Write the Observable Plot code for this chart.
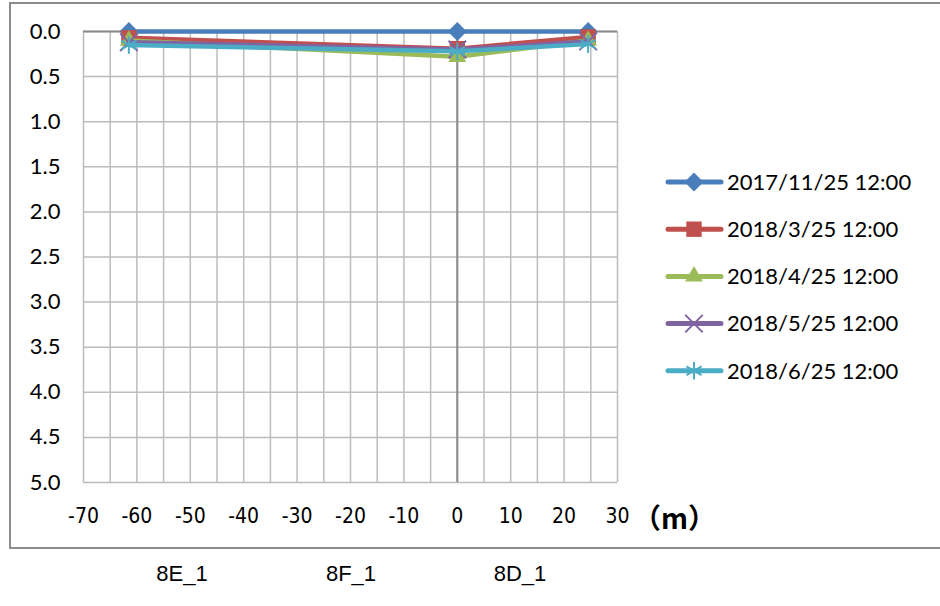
<!DOCTYPE html>
<html>
<head>
<meta charset="utf-8">
<script src="https://cdn.jsdelivr.net/npm/d3@7"></script>
<script src="https://cdn.jsdelivr.net/npm/@observablehq/plot@0.6"></script>
<style>
  html, body { margin: 0; padding: 0; background: #fff; }
  #chart { position: relative; width: 940px; height: 606px; overflow: hidden; }
</style>
</head>
<body>
<div id="chart"></div>
<script>
// ---- data ----
const positions = [-61.5, 0, 24.5];           // distance (m)
const seriesNames = ["2017/11/25 12:00", "2018/3/25 12:00", "2018/4/25 12:00", "2018/5/25 12:00", "2018/6/25 12:00"];
const s20171125 = [0.00, 0.00, 0.00];
const s20180325 = [0.07, 0.19, 0.06];
const s20180425 = [0.10, 0.28, 0.10];
const s20180525 = [0.12, 0.20, 0.11];
const s20180625 = [0.15, 0.22, 0.14];
const seriesValues = [s20171125, s20180325, s20180425, s20180525, s20180625];
const xTicks = [-70, -60, -50, -40, -30, -20, -10, 0, 10, 20, 30];
const yTicks = [0, 0.5, 1, 1.5, 2, 2.5, 3, 3.5, 4, 4.5, 5];
const siteLabels = ["8E_1", "8F_1", "8D_1"];

// ---- styles ----
const colors = ["#4A7EBB", "#C0504D", "#9BBB59", "#8064A2", "#4BACC6"];
const symbols = ["diamond2", "square2", "triangle2", "times", "asterisk"];
const symR = [8.5, 9.8, 8.5, 8, 8.3];
const filled = [true, true, true, false, false];

const rows = [];
seriesNames.forEach((name, i) => {
  positions.forEach((x, j) => rows.push({series: name, idx: i, x, y: seriesValues[i][j]}));
});

const marks = [
  Plot.gridX({ticks: d3.range(-70, 31, 5), stroke: "#bcbcbc", strokeOpacity: 1, strokeWidth: 1.5}),
  Plot.gridY({ticks: yTicks, stroke: "#bcbcbc", strokeOpacity: 1, strokeWidth: 1.5}),
  Plot.ruleX([0], {stroke: "#8a8a8a", strokeWidth: 2}),
  Plot.ruleY([0], {stroke: "#8a8a8a", strokeWidth: 2}),
  Plot.axisY({ticks: yTicks, tickFormat: d3.format(".1f"), tickSize: 0, tickPadding: 23, label: null,
    fontFamily: "Lato", fontSize: 22, fill: "#000"}),
  Plot.axisX({ticks: xTicks, tickSize: 0, tickPadding: 26, label: null, tickFormat: d => String(d).replace("−", "-"),
    fontFamily: "DejaVu Sans Condensed, DejaVu Sans", fontSize: 21, fill: "#000"})
];
seriesNames.forEach((name, i) => {
  const data = rows.filter(r => r.idx === i);
  marks.push(Plot.line(data, {x: "x", y: "y", stroke: colors[i], strokeWidth: 4.5}));
  marks.push(Plot.dot(data, filled[i]
    ? {x: "x", y: "y", symbol: () => symbols[i], r: symR[i], fill: colors[i], stroke: "none"}
    : {x: "x", y: "y", symbol: () => symbols[i], r: symR[i], stroke: colors[i], strokeWidth: 2, fill: "none"}));
});

const plot = Plot.plot({
  width: 940,
  height: 606,
  marginLeft: 83,
  marginRight: 323,
  marginTop: 31,
  marginBottom: 124,
  x: {domain: [-70, 30], axis: null, label: null},
  y: {domain: [0, 5], reverse: true, axis: null, label: null},
  symbol: {type: "identity"},
  style: {fontFamily: "Lato", background: "#fff", overflow: "visible"},
  marks
});
document.getElementById("chart").appendChild(plot);

const svg = d3.select(plot);
// chart frame
svg.insert("rect", ":first-child")
  .attr("x", 10).attr("y", 3).attr("width", 950).attr("height", 545)
  .attr("fill", "#fff").attr("stroke", "#8c8c8c").attr("stroke-width", 2);

// unit label
svg.append("text")
  .attr("x", 633).attr("y", 519).attr("dy", "0.35em").attr("text-anchor", "start")
  .attr("font-family", "Noto Sans CJK JP, Noto Sans CJK SC").attr("font-weight", "bold").attr("font-size", 28)
  .attr("fill", "#000").text("（m）");

// legend
const lg = svg.append("g");
const symMap = {diamond2: d3.symbolDiamond2, square2: d3.symbolSquare2, triangle2: d3.symbolTriangle2, times: d3.symbolTimes, asterisk: d3.symbolAsterisk};
seriesNames.forEach((name, i) => {
  const y = 182 + i * 47.2;
  lg.append("line").attr("x1", 668).attr("x2", 721).attr("y1", y).attr("y2", y)
    .attr("stroke", colors[i]).attr("stroke-width", 5).attr("stroke-linecap", "round");
  const p = lg.append("path")
    .attr("transform", `translate(694,${y})`)
    .attr("d", d3.symbol(symMap[symbols[i]], Math.PI * symR[i] * symR[i])());
  if (filled[i]) p.attr("fill", colors[i]);
  else p.attr("fill", "none").attr("stroke", colors[i]).attr("stroke-width", 2);
  lg.append("text").attr("x", 727).attr("y", y).attr("dy", "0.35em").attr("text-anchor", "start")
    .attr("font-family", "Lato").attr("font-size", 22).attr("fill", "#000").text(name);
});

// site labels below the chart
siteLabels.forEach((t, i) => {
  svg.append("text").attr("x", 182 + i * 169).attr("y", 573).attr("dy", "0.35em")
    .attr("text-anchor", "middle").attr("font-family", "Liberation Sans").attr("font-size", 22)
    .attr("fill", "#000").text(t);
});
</script>
</body>
</html>
